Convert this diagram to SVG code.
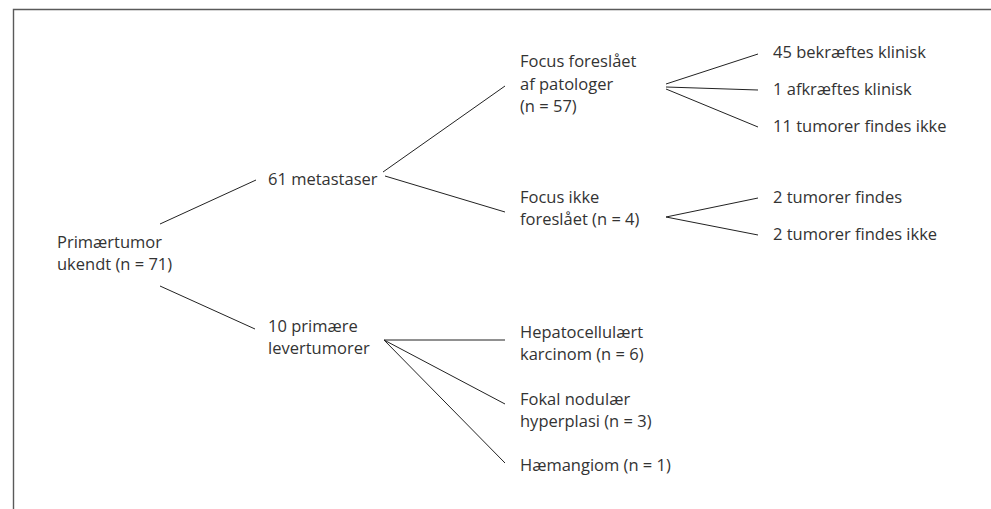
<svg xmlns="http://www.w3.org/2000/svg" width="991" height="509" viewBox="0 0 991 509">
<style>
.t{font-family:"Open Sans","Liberation Sans",sans-serif;font-size:16.5px;fill:#333}
.c line{stroke:#222;stroke-width:1;fill:none}
.frame{stroke:#5a5a5a;stroke-width:1.4;fill:none}
</style>
<rect width="991" height="509" fill="#fff"/>
<path class="frame" d="M13.5 509V9.5H991"/>
<g class="c" id="connectors">
<line x1="160" y1="224" x2="256" y2="180"/>
<line x1="160" y1="286" x2="255" y2="329"/>
<line x1="383" y1="172" x2="505" y2="86"/>
<line x1="385" y1="176" x2="505" y2="212"/>
<line x1="666" y1="84" x2="758" y2="54"/>
<line x1="666" y1="87" x2="758" y2="90"/>
<line x1="666" y1="89" x2="758" y2="127"/>
<line x1="666" y1="217" x2="758" y2="198"/>
<line x1="666" y1="217" x2="758" y2="235"/>
<line x1="384" y1="340" x2="505" y2="340"/>
<line x1="384" y1="340" x2="505" y2="404"/>
<line x1="384" y1="340" x2="505" y2="463"/>
</g>
<g id="root"><text class="t" x="57" y="248">Primærtumor</text><text class="t" x="57" y="270">ukendt (n = 71)</text></g>
<g id="meta"><text class="t" x="268" y="185">61 metastaser</text></g>
<g id="lever"><text class="t" x="268" y="332">10 primære</text><text class="t" x="268" y="354">levertumorer</text></g>
<g id="focus1"><text class="t" x="520" y="67">Focus foreslået</text><text class="t" x="520" y="90">af patologer</text><text class="t" x="520" y="112">(n = 57)</text></g>
<g id="focus2"><text class="t" x="520" y="203">Focus ikke</text><text class="t" x="520" y="225">foreslået (n = 4)</text></g>
<g id="hcc"><text class="t" x="520" y="338">Hepatocellulært</text><text class="t" x="520" y="360">karcinom (n = 6)</text></g>
<g id="fnh"><text class="t" x="520" y="405">Fokal nodulær</text><text class="t" x="520" y="427">hyperplasi (n = 3)</text></g>
<g id="haem"><text class="t" x="520" y="471">Hæmangiom (n = 1)</text></g>
<g id="r1"><text class="t" x="773" y="58">45 bekræftes klinisk</text></g>
<g id="r2"><text class="t" x="773" y="95">1 afkræftes klinisk</text></g>
<g id="r3"><text class="t" x="773" y="132">11 tumorer findes ikke</text></g>
<g id="r4"><text class="t" x="773" y="203">2 tumorer findes</text></g>
<g id="r5"><text class="t" x="773" y="240">2 tumorer findes ikke</text></g>
</svg>
